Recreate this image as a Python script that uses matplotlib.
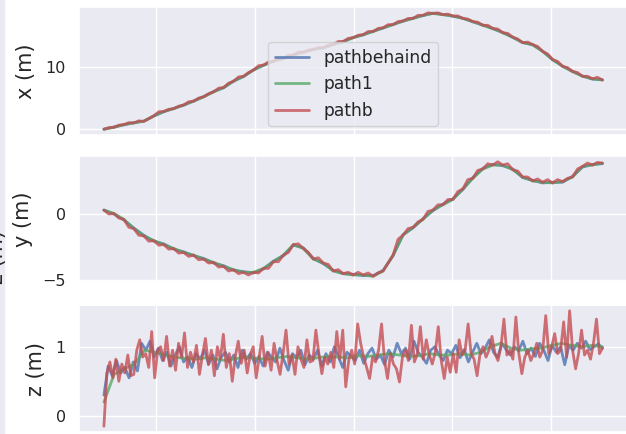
import numpy as np
import matplotlib
matplotlib.use("Agg")
import matplotlib.pyplot as plt
from matplotlib.ticker import MultipleLocator
import seaborn as sns

sns.set_theme(style="darkgrid")

# time span of the recording (same for every series)
T0, T1 = 0.47, 5.52

labels = ["pathbehaind", "path1", "pathb"]

# ---- x (m) ----
x_behind = [0.0, 0.35, 0.7, 1.05, 1.3, 2.1, 2.8, 3.35, 3.85, 4.55, 5.25, 6.05, 6.65, 7.75,
            8.45, 9.55, 10.25, 10.95, 11.35, 11.95, 12.35, 12.85, 13.05, 13.65, 14.05,
            14.75, 15.15, 15.75, 16.25, 16.85, 17.35, 17.85, 18.25, 18.65, 18.45, 18.15,
            17.85, 17.25, 16.75, 16.15, 15.55, 14.75, 13.95, 13.55, 12.55, 11.15, 10.15,
            9.25, 8.55, 8.05, 7.95]
x_path1 = [0.0, 0.3, 0.75, 1.0, 1.3, 2.15, 2.85, 3.3, 3.9, 4.5, 5.2, 6.0, 6.7, 7.7, 8.5,
           9.5, 10.3, 10.9, 11.4, 11.9, 12.4, 12.8, 13.1, 13.6, 14.1, 14.7, 15.2, 15.7,
           16.3, 16.8, 17.4, 17.8, 18.3, 18.6, 18.4, 18.2, 17.8, 17.3, 16.7, 16.2, 15.5,
           14.8, 13.9, 13.6, 12.5, 11.2, 10.1, 9.3, 8.5, 8.1, 7.9]
x_pathb = [0.0, 0.25, 0.3, 0.65, 0.75, 1.05, 1.0, 1.35, 1.25, 1.7, 2.15, 2.8, 2.85, 3.2,
           3.3, 3.7, 3.9, 4.4, 4.5, 5.0, 5.2, 5.7, 6.0, 6.6, 6.7, 7.4, 7.7, 8.4, 8.5, 9.1,
           9.5, 10.2, 10.3, 10.8, 10.9, 11.3, 11.4, 11.9, 11.9, 12.4, 12.4, 12.7, 12.8,
           13.1, 13.1, 13.5, 13.6, 14.1, 14.1, 14.6, 14.7, 15.1, 15.2, 15.7, 15.7, 16.2,
           16.3, 16.8, 16.8, 17.3, 17.4, 17.8, 17.8, 18.3, 18.3, 18.7, 18.6, 18.7, 18.4,
           18.5, 18.2, 18.2, 17.8, 17.7, 17.3, 17.2, 16.7, 16.7, 16.2, 16.1, 15.5, 15.4,
           14.8, 14.5, 13.9, 14.0, 13.6, 13.3, 12.5, 12.1, 11.2, 10.9, 10.1, 9.9, 9.3,
           9.1, 8.5, 8.5, 8.1, 8.35, 7.9]

# ---- y (m) ----
y_behind = [0.3, 0.0, -0.45, -1.05, -1.6, -2.05, -2.25, -2.65, -2.85, -3.15, -3.35, -3.7,
            -3.9, -4.25, -4.35, -4.45, -4.15, -3.55, -3.15, -2.35, -2.55, -3.35, -3.75,
            -4.25, -4.5, -4.55, -4.65, -4.65, -4.25, -3.15, -1.55, -1.05, -0.35, 0.25,
            0.75, 1.15, 1.85, 2.75, 3.45, 3.75, 3.65, 3.4, 2.75, 2.55, 2.35, 2.4, 2.4,
            2.85, 3.55, 3.75, 3.8]
y_path1 = [0.3, 0.05, -0.4, -1.1, -1.65, -2.0, -2.3, -2.6, -2.9, -3.1, -3.4, -3.65, -3.95,
           -4.2, -4.4, -4.4, -4.1, -3.6, -3.1, -2.3, -2.6, -3.4, -3.7, -4.3, -4.5, -4.6,
           -4.6, -4.7, -4.3, -3.1, -1.6, -1.0, -0.4, 0.3, 0.7, 1.1, 1.9, 2.7, 3.4, 3.7,
           3.7, 3.35, 2.8, 2.5, 2.4, 2.35, 2.45, 2.8, 3.6, 3.7, 3.85]
y_pathb = [0.3, 0.0, 0.05, -0.3, -0.4, -1.0, -1.1, -1.6, -1.65, -2.05, -2.0, -2.35, -2.3,
           -2.65, -2.6, -2.95, -2.9, -3.2, -3.1, -3.45, -3.4, -3.7, -3.65, -4.0, -3.95,
           -4.3, -4.2, -4.5, -4.4, -4.6, -4.4, -4.45, -4.1, -4.1, -3.6, -3.6, -3.1, -2.9,
           -2.3, -2.25, -2.6, -2.9, -3.4, -3.3, -3.7, -3.8, -4.3, -4.2, -4.5, -4.4, -4.6,
           -4.4, -4.6, -4.45, -4.7, -4.45, -4.3, -3.7, -3.1, -1.9, -1.6, -1.1, -1.0, -0.6,
           -0.4, 0.2, 0.3, 0.7, 0.7, 1.1, 1.1, 1.7, 1.9, 2.6, 2.7, 3.3, 3.4, 3.8, 3.7, 3.95,
           3.7, 3.8, 3.35, 3.25, 2.8, 2.8, 2.5, 2.65, 2.4, 2.6, 2.35, 2.6, 2.45, 2.7, 2.8,
           3.4, 3.6, 3.85, 3.7, 3.9, 3.85]

# ---- z (m) ----
z_behind = [0.3, 0.72, 0.58, 0.8, 0.62, 0.7, 0.55, 0.78, 0.65, 1.05,
            0.95, 1.08, 0.85, 0.98, 0.8, 0.92, 0.72, 0.88, 1.0, 0.78,
            0.85, 0.7, 0.9, 0.82, 0.95, 0.75, 0.88, 0.68, 0.85, 0.92,
            0.78, 0.88, 0.7, 0.95, 0.82, 0.9, 0.76, 0.86, 0.72, 0.92,
            0.85, 0.78, 0.98, 0.8, 0.66, 0.9, 0.84, 0.95, 0.74, 0.88,
            0.82, 0.95, 0.72, 0.9, 0.78, 1.0, 0.85, 0.7, 0.92, 0.86,
            0.8, 0.95, 0.76, 0.9, 0.98, 0.82, 0.88, 0.74, 0.95, 0.85,
            1.05, 0.9, 0.98, 0.82, 1.08, 0.92, 0.85, 0.76, 0.95, 1.0,
            0.88, 0.8, 0.95, 0.9, 1.02, 0.84, 0.96, 0.78, 0.92, 1.05,
            0.9, 0.98, 1.1, 0.92, 0.85, 1.05, 0.96, 0.88, 1.0, 0.94,
            1.08, 0.9, 0.98, 0.86, 1.05, 0.95, 0.8, 1.02, 0.92, 1.0,
            0.74, 1.02, 0.95, 1.05, 0.98, 1.08, 0.96, 1.0, 1.04, 0.98]
z_path1 = [0.2, 0.6, 0.68, 0.75, 0.95, 0.92, 0.88, 0.85, 0.83, 0.82,
           0.84, 0.82, 0.8, 0.83, 0.85, 0.83, 0.82, 0.84, 0.86, 0.84,
           0.82, 0.84, 0.86, 0.85, 0.84, 0.87, 0.86, 0.88, 0.9, 0.88,
           0.86, 0.87, 0.9, 0.88, 0.88, 0.9, 0.88, 0.92, 1.0, 1.05,
           0.98, 0.95, 0.97, 0.98, 1.02, 1.05, 1.02, 1.0, 1.02, 1.0]
z_pathb = [-0.15, 0.62, 0.78, 0.55, 0.82, 0.5, 0.75, 0.62, 0.88, 0.58,
           0.6, 0.95, 1.1, 0.85, 0.9, 0.7, 1.22, 0.55, 0.95, 1.0,
           0.8, 1.15, 0.72, 0.95, 0.66, 1.05, 0.85, 1.2, 0.7, 0.92,
           0.78, 1.02, 0.6, 0.88, 1.12, 0.74, 0.95, 0.58, 1.0, 0.82,
           1.18, 0.7, 0.9, 0.5, 0.86, 1.08, 0.76, 0.95, 0.62, 0.88,
           1.0, 0.55, 0.84, 1.15, 0.72, 0.92, 0.66, 1.05, 0.8, 0.6,
           0.9, 1.24, 0.75, 0.88, 0.6, 1.0, 0.82, 0.7, 1.1, 0.78,
           0.8, 1.24, 0.9, 0.61, 0.85, 0.75, 0.92, 0.7, 1.22, 0.82,
           1.24, 0.42, 0.8, 0.95, 0.75, 1.33, 1.05, 0.85, 0.7, 0.54,
           0.85, 0.78, 0.95, 1.33, 0.8, 0.54, 0.9, 0.75, 0.68, 0.49,
           0.85, 0.95, 0.8, 1.31, 0.78, 0.9, 1.29, 0.82, 1.1, 0.88,
           0.75, 0.92, 1.29, 0.8, 0.54, 0.85, 0.63, 0.9, 0.63, 1.1,
           0.88, 0.95, 1.33, 0.9, 0.82, 0.58, 0.9, 1.0, 0.85, 0.95,
           1.15, 0.9, 0.8, 1.0, 1.4, 0.88, 0.95, 0.82, 1.43, 0.9,
           0.61, 0.85, 0.95, 0.8, 0.9, 1.05, 0.85, 0.95, 1.45, 0.9,
           1.0, 1.19, 0.9, 0.95, 1.36, 0.85, 1.52, 0.95, 0.68, 0.9,
           1.24, 0.88, 0.95, 0.82, 1.05, 1.4, 0.9, 0.98]

panels = [("x (m)", [x_behind, x_path1, x_pathb], 10),
          ("y (m)", [y_behind, y_path1, y_pathb], 5),
          ("z (m)", [z_behind, z_path1, z_pathb], 1)]
colors = ["#4C72B0", "#55A868", "#C44E52"]

fig = plt.figure(figsize=(6.26, 4.34), dpi=100)
rects = [[0.1262, 0.6889, 0.876, 0.2949],
         [0.1262, 0.3502, 0.876, 0.2903],
         [0.1262, 0.0046, 0.876, 0.2926]]

axes = []
for k, (ylab, series, step) in enumerate(panels):
    ax = fig.add_axes(rects[k], sharex=axes[0] if axes else None)
    for s, c, lab in zip(series, colors, labels):
        t = np.linspace(T0, T1, len(s))
        ax.plot(t, s, color=c, lw=2, alpha=0.8, label=lab)
    ax.set_ylabel(ylab, fontsize=15, labelpad=7)
    ax.yaxis.set_major_locator(MultipleLocator(step))
    ax.xaxis.set_major_locator(MultipleLocator(1))
    ax.tick_params(axis="y", labelsize=11.5)
    ax.tick_params(axis="x", labelbottom=False)
    axes.append(ax)

axes[0].legend(loc="lower center", fontsize=12.3)

# remains of the neighbouring panel at the left border of the screenshot
fig.patches.append(plt.Rectangle((0, 0), 4 / 626, 1, transform=fig.transFigure,
                                 color="#EAEAF2", zorder=0))
fig.text(-3 / 626, 1 - 257 / 434, "z (m)", rotation=90, fontsize=15,
         ha="center", va="center", color="#262626")

fig.savefig("out.png", dpi=100)
